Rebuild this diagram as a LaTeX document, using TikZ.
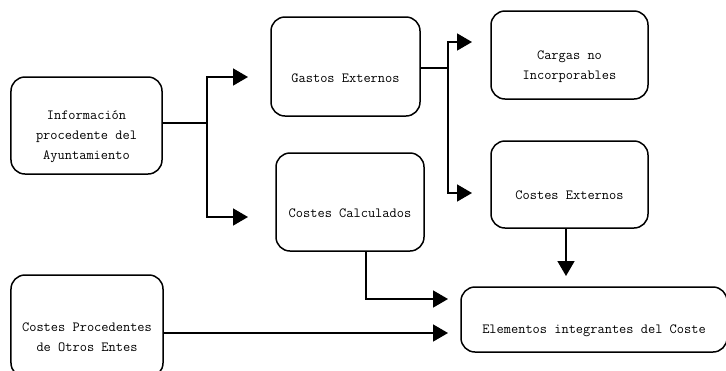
\documentclass[tikz,border=0pt]{standalone}
\usepackage{fontspec}
\usetikzlibrary{arrows.meta}
\begin{document}
\begin{tikzpicture}[x=1bp,y=-1bp,
  box/.style={draw, rounded corners=14bp, line width=1.5bp, inner sep=0pt},
  lbl/.style={inner sep=0pt, align=center, font=\ttfamily\fontsize{14bp}{20bp}\selectfont},
  link/.style={line width=1.6bp},
  arr/.style={link, -{Triangle[length=15bp,width=17bp]}}]
\useasboundingbox (0,0) rectangle (726,370);
\clip (0,0) rectangle (726,370);

% boxes
\node[box, minimum width=151bp, minimum height=97bp]  (ayto) at (86.5,125.5) {};
\node[box, minimum width=149bp, minimum height=99bp]  (gastos) at (345.5,66.5) {};
\node[box, minimum width=148bp, minimum height=98bp]  (calc) at (350,202) {};
\node[box, minimum width=157bp, minimum height=88bp]  (cargas) at (569.5,55) {};
\node[box, minimum width=157bp, minimum height=87bp]  (cext) at (569.5,184.5) {};
\node[box, minimum width=266bp, minimum height=65bp]  (elem) at (594,319.5) {};
\node[box, minimum width=152bp, minimum height=102bp] (otros) at (87,326) {};

% labels, set a little below each box centre
\node[lbl] (aytoT)   at ([yshift=-11bp]ayto.center)   {Información\\procedente del\\Ayuntamiento};
\node[lbl] (gastosT) at ([yshift=-12bp]gastos.center) {Gastos Externos};
\node[lbl] (calcT)   at ([yshift=-11bp]calc.center)   {Costes Calculados};
\node[lbl] (cargasT) at ([yshift=-12bp]cargas.center) {Cargas no\\Incorporables};
\node[lbl] (cextT)   at ([yshift=-11bp]cext.center)   {Costes Externos};
\node[lbl] (elemT)   at ([yshift=-11bp]elem.center)   {Elementos integrantes del Coste};
\node[lbl] (otrosT)  at ([yshift=-11bp]otros.center)  {Costes Procedentes\\de Otros Entes};

% branch points and arrow ends
\coordinate (split1)   at (207,123);
\coordinate (split2)   at (448,68);
\coordinate (toGastos) at (248,77);
\coordinate (toCalc)   at (248,217);
\coordinate (toCargas) at (472,42);
\coordinate (toCext)   at (472,193);
\coordinate (toElemA)  at (566,276);
\coordinate (toElemB)  at (448,299);
\coordinate (toElemC)  at (448,333);

% connectors
\draw[link] (ayto.east |- split1) -- (split1);
\draw[arr] (split1) |- (toGastos);
\draw[arr] (split1) |- (toCalc);
\draw[link] (gastos.east |- split2) -- (split2);
\draw[arr] (split2) |- (toCargas);
\draw[arr] (split2) |- (toCext);
\draw[arr] (cext.south -| toElemA) -- (toElemA);
\draw[arr] ([xshift=16bp]calc.south) |- (toElemB);
\draw[arr] (otros.east |- toElemC) -- (toElemC);
\end{tikzpicture}
\end{document}
